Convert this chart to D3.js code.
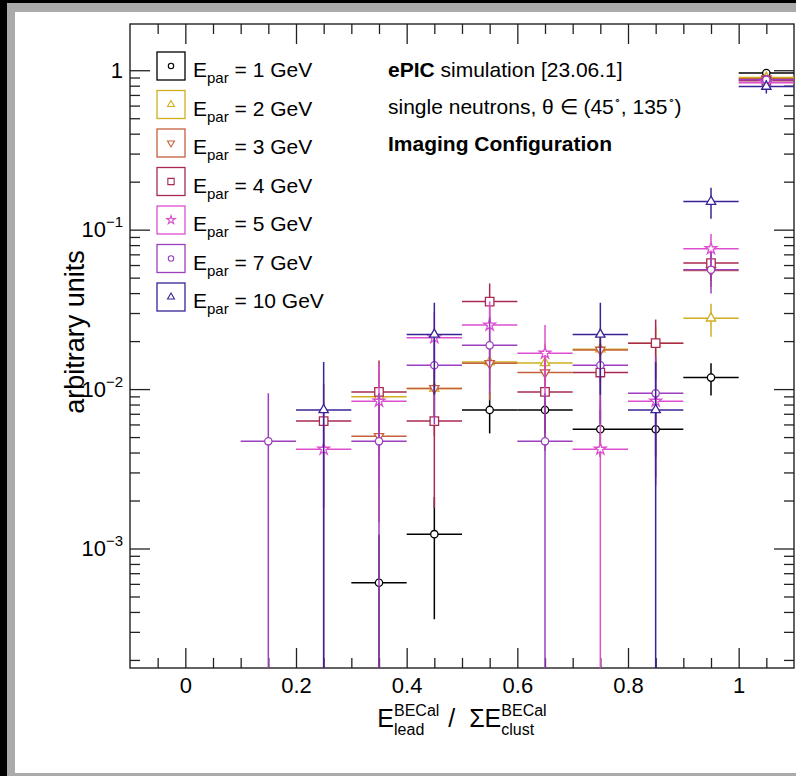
<!DOCTYPE html>
<html><head><meta charset="utf-8">
<script src="https://cdn.jsdelivr.net/npm/d3@7"></script>
<style>body{margin:0;background:#000}svg{display:block}</style>
</head><body><svg id="c" width="796" height="776"></svg>
<script>
// ---------------- data ----------------
const binCenters = [0.15, 0.25, 0.35, 0.45, 0.55, 0.65, 0.75, 0.85, 0.95, 1.05];
const binHalfWidth = 0.05;
const energyLabels = ["1", "2", "3", "4", "5", "7", "10"];
const seriesColors = ["#000000", "#cfae1f", "#c4603c", "#a82a50", "#dd4fcf", "#9b3fbf", "#3a2396"];
const seriesMarkers = ["circle", "triangle", "triangleDown", "square", "star", "circle", "triangle"];

const e1 =    [null, null, 6.1e-4, 1.23e-3, 7.4e-3, 7.4e-3, 5.6e-3, 5.6e-3, 1.18e-2, 0.96];
const e1Err = [null, null, 6.1e-4, 8.7e-4, 2.13e-3, 2.13e-3, 1.85e-3, 1.85e-3, 2.7e-3, 0.024];
const e2 =    [null, null, 8.95e-3, 1.01e-2, 1.48e-2, 1.46e-2, 1.78e-2, 1.94e-2, 2.78e-2, 0.90];
const e2Err = [null, null, 3.7e-3, 3.9e-3, 4.7e-3, 4.7e-3, 5.2e-3, 5.4e-3, 6.5e-3, 0.037];
const e3 =    [null, null, 5.06e-3, 1.01e-2, 1.45e-2, 1.27e-2, 1.76e-2, null, 5.55e-2, 0.885];
const e3Err = [null, null, 3.6e-3, 5.0e-3, 6.0e-3, 5.6e-3, 6.6e-3, null, 1.18e-2, 0.047];
const e4 =    [null, 6.3e-3, 9.6e-3, 6.3e-3, 3.54e-2, 9.6e-3, 1.27e-2, 1.94e-2, 6.17e-2, 0.86];
const e4Err = [null, 4.5e-3, 5.5e-3, 4.5e-3, 1.06e-2, 5.5e-3, 6.4e-3, 7.9e-3, 1.4e-2, 0.052];
const e5 =    [null, 4.2e-3, 8.4e-3, 2.1e-2, 2.52e-2, 1.68e-2, 4.2e-3, 8.4e-3, 7.6e-2, 0.836];
const e5Err = [null, 4.2e-3, 5.9e-3, 9.4e-3, 1.03e-2, 8.4e-3, 4.2e-3, 5.9e-3, 1.79e-2, 0.059];
const e7 =    [4.7e-3, null, 4.7e-3, 1.41e-2, 1.88e-2, 4.7e-3, 1.41e-2, 9.4e-3, 5.6e-2, 0.873];
const e7Err = [4.7e-3, null, 4.7e-3, 8.1e-3, 9.4e-3, 4.7e-3, 8.1e-3, 6.6e-3, 1.62e-2, 0.064];
const e10 =    [null, 7.4e-3, null, 2.2e-2, null, null, 2.2e-2, 7.4e-3, 0.150, 0.79];
const e10Err = [null, 7.4e-3, null, 1.28e-2, null, null, 1.28e-2, 7.4e-3, 3.3e-2, 0.076];

const seriesValues = [e1, e2, e3, e4, e5, e7, e10];
const seriesErrors = [e1Err, e2Err, e3Err, e4Err, e5Err, e7Err, e10Err];

const xMajorTicks = [0, 0.2, 0.4, 0.6, 0.8, 1.0];
const xMinorTicks = [-0.05, 0.05, 0.1, 0.15, 0.25, 0.3, 0.35, 0.45, 0.5, 0.55, 0.65, 0.7, 0.75, 0.85, 0.9, 0.95, 1.05];
const yMajorTicks = [1e-3, 1e-2, 1e-1, 1];
const yMajorExp = ["−3", "−2", "−1", ""];
const yMinorTicks = [2e-4,3e-4,4e-4,5e-4,6e-4,7e-4,8e-4,9e-4,
                     2e-3,3e-3,4e-3,5e-3,6e-3,7e-3,8e-3,9e-3,
                     2e-2,3e-2,4e-2,5e-2,6e-2,7e-2,8e-2,9e-2,
                     0.2,0.3,0.4,0.5,0.6,0.7,0.8,0.9];
const xDomain = [-0.1, 1.1];
const yDomain = [1.78e-4, 1.95];

// ---------------- layout ----------------
const L = 130, R = 794, T = 24, B = 668;
const FONT = "'Liberation Sans', Arial, Helvetica, sans-serif";
const svg = d3.select("#c");

svg.append("rect").attr("width", 796).attr("height", 776).attr("fill", "#000");
svg.append("rect").attr("x", 7).attr("y", 3).attr("width", 789).attr("height", 773).attr("fill", "#aaaaaa");
svg.append("rect").attr("x", 15).attr("y", 12).attr("width", 781).attr("height", 761).attr("fill", "#fff");

const x = d3.scaleLinear().domain(xDomain).range([L, R]);
const y = d3.scaleLog().domain(yDomain).range([B, T]);

svg.append("defs").append("clipPath").attr("id", "plotclip")
  .append("rect").attr("x", L).attr("y", T).attr("width", R - L).attr("height", B - T);

// ---------------- axes ----------------
const tickColor = "#222";
function styleAxis(g) {
  g.select(".domain").remove();
  g.selectAll(".tick line").attr("stroke", tickColor).attr("stroke-width", 1.3);
  g.selectAll(".tick text").attr("font-family", FONT).attr("font-size", 22).attr("fill", "#000");
}
svg.append("g").attr("transform", `translate(0,${B})`)
  .call(d3.axisBottom(x).tickValues(xMajorTicks).tickSize(-20).tickPadding(9).tickFormat(d3.format("")))
  .call(styleAxis);
svg.append("g").attr("transform", `translate(0,${B})`)
  .call(d3.axisBottom(x).tickValues(xMinorTicks).tickSize(-10).tickFormat(""))
  .call(styleAxis);
svg.append("g").attr("transform", `translate(0,${T})`)
  .call(d3.axisTop(x).tickValues(xMajorTicks).tickSize(-20).tickFormat(""))
  .call(styleAxis);
svg.append("g").attr("transform", `translate(0,${T})`)
  .call(d3.axisTop(x).tickValues(xMinorTicks).tickSize(-10).tickFormat(""))
  .call(styleAxis);
svg.append("g").attr("transform", `translate(${L},0)`)
  .call(d3.axisLeft(y).tickValues(yMajorTicks).tickSize(-20).tickFormat(""))
  .call(styleAxis);
svg.append("g").attr("transform", `translate(${L},0)`)
  .call(d3.axisLeft(y).tickValues(yMinorTicks).tickSize(-10).tickFormat(""))
  .call(styleAxis);
svg.append("g").attr("transform", `translate(${R},0)`)
  .call(d3.axisRight(y).tickValues(yMajorTicks).tickSize(-20).tickFormat(""))
  .call(styleAxis);
svg.append("g").attr("transform", `translate(${R},0)`)
  .call(d3.axisRight(y).tickValues(yMinorTicks).tickSize(-10).tickFormat(""))
  .call(styleAxis);

yMajorTicks.forEach((v, i) => {
  const t = svg.append("text").attr("x", 123).attr("y", y(v) + 7.5)
    .attr("text-anchor", "end").attr("font-family", FONT).attr("font-size", 22).attr("fill", "#000");
  if (yMajorExp[i] === "") { t.text("1"); }
  else {
    t.append("tspan").text("10");
    t.append("tspan").attr("font-size", 15).attr("dy", -10).text(yMajorExp[i]);
  }
});

svg.append("rect").attr("x", L).attr("y", T).attr("width", R - L).attr("height", B - T)
  .attr("fill", "none").attr("stroke", "#222").attr("stroke-width", 1.4);

// ---------------- data marks ----------------
function symbolPath(kind, scale) {
  const s = scale || 1;
  if (kind === "circle") return d3.symbol(d3.symbolCircle, 42 * s)();
  if (kind === "square") return d3.symbol(d3.symbolSquare, 72 * s)();
  if (kind === "triangle" || kind === "triangleDown") return d3.symbol(d3.symbolTriangle, 38 * s)();
  if (kind === "star") return d3.symbol(d3.symbolStar, 42 * s)();
}
function symbolTransform(kind, cx, cy) {
  return kind === "triangleDown" ? `translate(${cx},${cy}) rotate(180)` : `translate(${cx},${cy})`;
}

const plot = svg.append("g").attr("clip-path", "url(#plotclip)");
seriesValues.forEach((vals, si) => {
  const col = seriesColors[si];
  const g = plot.append("g");
  const pts = binCenters.map((c, i) => ({c, v: vals[i], e: seriesErrors[si][i]})).filter(d => d.v != null);
  g.selectAll("line.h").data(pts).join("line")
    .attr("x1", d => x(d.c - binHalfWidth)).attr("x2", d => x(d.c + binHalfWidth))
    .attr("y1", d => y(d.v)).attr("y2", d => y(d.v))
    .attr("stroke", col).attr("stroke-width", 1.5);
  g.selectAll("line.v").data(pts).join("line")
    .attr("x1", d => x(d.c)).attr("x2", d => x(d.c))
    .attr("y1", d => y(d.v + d.e))
    .attr("y2", d => (d.v - d.e) > yDomain[0] ? y(d.v - d.e) : B + 2)
    .attr("stroke", col).attr("stroke-width", 1.5);
  g.selectAll("path").data(pts).join("path")
    .attr("d", symbolPath(seriesMarkers[si]))
    .attr("transform", d => symbolTransform(seriesMarkers[si], x(d.c), y(d.v)))
    .attr("fill", "#fff").attr("stroke", col).attr("stroke-width", 1.3);
});

// ---------------- legend ----------------
energyLabels.forEach((lab, i) => {
  const by = 52 + i * 38.5;
  const col = seriesColors[i];
  svg.append("rect").attr("x", 157).attr("y", by).attr("width", 28).attr("height", 28)
    .attr("fill", "#fff").attr("stroke", col).attr("stroke-width", 1.3);
  svg.append("path").attr("d", symbolPath(seriesMarkers[i], 0.55))
    .attr("transform", symbolTransform(seriesMarkers[i], 171, by + 14))
    .attr("fill", "#fff").attr("stroke", col).attr("stroke-width", 1.1);
  const t = svg.append("text").attr("x", 193).attr("y", by + 25)
    .attr("font-family", FONT).attr("font-size", 21).attr("fill", "#000");
  t.append("tspan").text("E");
  t.append("tspan").attr("font-size", 15).attr("dy", 6).text("par");
  t.append("tspan").attr("dy", -6).text("\u00a0= " + lab + " GeV");
});

// ---------------- annotations ----------------
const ann1 = svg.append("text").attr("x", 388).attr("y", 77).attr("font-family", FONT).attr("font-size", 21).attr("fill", "#000");
ann1.append("tspan").attr("font-weight", "bold").text("ePIC");
ann1.append("tspan").text("\u00a0simulation [23.06.1]");
const ann2 = svg.append("text").attr("x", 388).attr("y", 114).attr("font-family", FONT).attr("font-size", 21).attr("fill", "#000");
ann2.append("tspan").text("single neutrons, θ ∈ (45");
ann2.append("tspan").attr("font-size", 11).attr("dy", -10).text("∘");
ann2.append("tspan").attr("dy", 10).text(", 135");
ann2.append("tspan").attr("font-size", 11).attr("dy", -10).text("∘");
ann2.append("tspan").attr("dy", 10).text(")");
svg.append("text").attr("x", 388).attr("y", 151).attr("font-family", FONT).attr("font-size", 21)
  .attr("font-weight", "bold").attr("fill", "#000").text("Imaging Configuration");

// ---------------- axis titles ----------------
svg.append("text").attr("transform", "translate(84,332) rotate(-90)")
  .attr("text-anchor", "middle").attr("font-family", FONT).attr("font-size", 27).attr("fill", "#000")
  .text("arbitrary units");

const xt = svg.append("g").attr("font-family", FONT).attr("fill", "#000");
let cx = 0;
function piece(txt, size, dy, advance) {
  const t = xt.append("text").attr("x", cx).attr("y", 727 + dy).attr("font-size", size).text(txt);
  const w = t.node().getComputedTextLength();
  if (advance) cx += w;
  return w;
}
piece("E", 25, 0, true);
let w1 = piece("BECal", 16, -11, false);
let w2 = piece("lead", 16, 8, false);
cx += Math.max(w1, w2) + 2;
piece("\u00a0/\u00a0\u00a0ΣE", 25, 0, true);
w1 = piece("BECal", 16, -11, false);
w2 = piece("clust", 16, 8, false);
cx += Math.max(w1, w2);
xt.attr("transform", `translate(${(L + R) / 2 - cx / 2},0)`);
</script>
</body></html>
